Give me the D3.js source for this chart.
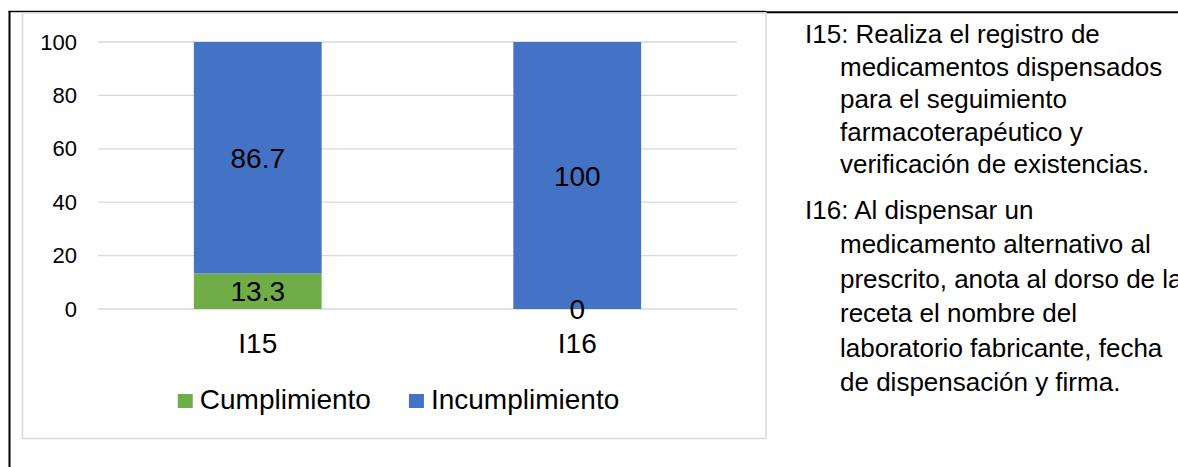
<!DOCTYPE html>
<html>
<head>
<meta charset="utf-8">
<script src="https://cdn.jsdelivr.net/npm/d3@7"></script>
<style>
  html, body { margin: 0; padding: 0; background: #ffffff; }
  svg { display: block; font-family: "Liberation Sans", Arial, sans-serif; }
</style>
</head>
<body>
<svg id="chart" width="1178" height="467"></svg>
<script>
// Indicators and their compliance percentages
const categories = ["I15", "I16"];
const cumplimiento = [13.3, 0];
const incumplimiento = [86.7, 100];
const seriesNames = ["Cumplimiento", "Incumplimiento"];
const seriesColors = ["#70AD47", "#4472C4"];
const yTicks = [0, 20, 40, 60, 80, 100];

// Indicator descriptions shown beside the chart
const notesI15 = [
  "I15: Realiza el registro de",
  "medicamentos dispensados",
  "para el seguimiento",
  "farmacoterapéutico y",
  "verificación de existencias."
];
const notesI16 = [
  "I16: Al dispensar un",
  "medicamento alternativo al",
  "prescrito, anota al dorso de la",
  "receta el nombre del",
  "laboratorio fabricante, fecha",
  "de dispensación y firma."
];

const svg = d3.select("#chart");

// Table cell borders
svg.append("line").attr("x1", 9.5).attr("x2", 9.5).attr("y1", 11).attr("y2", 467)
  .attr("stroke", "#000").attr("stroke-width", 2);
svg.append("line").attr("x1", 8.5).attr("x2", 766).attr("y1", 11.5).attr("y2", 11.5)
  .attr("stroke", "#000").attr("stroke-width", 1.5);
svg.append("line").attr("x1", 766).attr("x2", 1178).attr("y1", 12.2).attr("y2", 12.2)
  .attr("stroke", "#000").attr("stroke-width", 2);

// Chart area frame
svg.append("rect").attr("x", 22.5).attr("y", 13).attr("width", 743.5).attr("height", 425.5)
  .attr("fill", "none").attr("stroke", "#d9d9d9").attr("stroke-width", 1.5);

const x = d3.scaleBand().domain(categories).range([98, 737])
  .paddingInner(0.6).paddingOuter(0.3);
const y = d3.scaleLinear().domain([0, 100]).range([309, 42]);

// Gridlines
svg.append("g").selectAll("line").data(yTicks).join("line")
  .attr("x1", 98).attr("x2", 737)
  .attr("y1", d => y(d)).attr("y2", d => y(d))
  .attr("stroke", "#d9d9d9").attr("stroke-width", 1.3);

// Y axis labels
const yAxis = d3.axisLeft(y).tickValues(yTicks).tickSize(0).tickPadding(0);
const gy = svg.append("g").attr("transform", "translate(77,0)").call(yAxis);
gy.select(".domain").remove();
gy.attr("font-size", 22).attr("font-family", "'Liberation Sans', Arial, sans-serif");
gy.selectAll("text").attr("fill", "#000");

// Stacked bars
const rows = categories.map((c, i) => ({ cat: c, Cumplimiento: cumplimiento[i], Incumplimiento: incumplimiento[i] }));
const stacked = d3.stack().keys(seriesNames)(rows);

const layers = svg.append("g").selectAll("g").data(stacked).join("g")
  .attr("fill", (d, i) => seriesColors[i]);
layers.selectAll("rect").data(d => d).join("rect")
  .attr("x", d => x(d.data.cat))
  .attr("width", x.bandwidth())
  .attr("y", d => y(d[1]))
  .attr("height", d => y(d[0]) - y(d[1]));

// Value labels centred in each segment
const labels = svg.append("g");
stacked.forEach(layer => {
  layer.forEach(d => {
    const v = d[1] - d[0];
    labels.append("text")
      .attr("x", x(d.data.cat) + x.bandwidth() / 2)
      .attr("y", (y(d[0]) + y(d[1])) / 2)
      .attr("dy", "0.36em")
      .attr("text-anchor", "middle")
      .attr("font-size", 28)
      .attr("fill", "#000")
      .text(d3.format("~")(+v.toFixed(1)));
  });
});

// Category axis labels
const xAxis = d3.axisBottom(x).tickSize(0).tickPadding(0);
const gx = svg.append("g").attr("transform", "translate(0,353)").call(xAxis);
gx.select(".domain").remove();
gx.attr("font-size", 28).attr("font-family", "'Liberation Sans', Arial, sans-serif");
gx.selectAll("text").attr("fill", "#000").attr("dy", 0);

// Legend
const legend = svg.append("g");
const items = legend.selectAll("g").data(seriesNames).join("g");
items.append("rect").attr("width", 15).attr("height", 14).attr("y", -15)
  .attr("fill", (d, i) => seriesColors[i]);
items.append("text").attr("x", 22).attr("font-size", 28).attr("fill", "#000").text(d => d);
const widths = [];
items.each(function () { widths.push(22 + this.querySelector("text").getComputedTextLength()); });
const gap = 38;
const total = d3.sum(widths) + gap * (widths.length - 1);
items.attr("transform", (d, i) => {
  const off = d3.sum(widths.slice(0, i)) + gap * i;
  return `translate(${off},0)`;
});
legend.attr("transform", `translate(${398.5 - total / 2},409)`);

// Indicator descriptions with hanging indent
function drawNotes(lines, startY, step) {
  svg.append("g").selectAll("text").data(lines).join("text")
    .attr("x", (d, i) => i === 0 ? 805 : 840)
    .attr("y", (d, i) => startY + i * step)
    .attr("font-size", 26)
    .attr("fill", "#000")
    .text(d => d);
}
drawNotes(notesI15, 43, 32.6);
drawNotes(notesI16, 219, 34.4);
</script>
</body>
</html>
